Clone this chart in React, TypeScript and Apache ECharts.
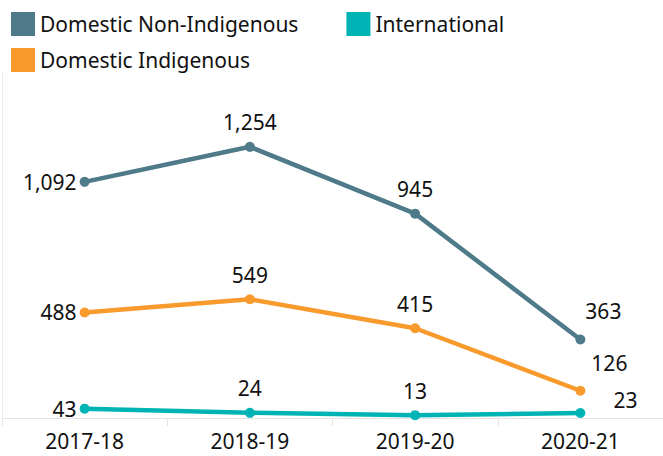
import React, { useEffect, useRef } from "react";
import * as echarts from "echarts";

const categories = ["2017-18", "2018-19", "2019-20", "2020-21"];
const nonIndigenous = [1092, 1254, 945, 363];
const indigenous = [488, 549, 415, 126];
const international = [43, 24, 13, 23];

const C_NON = "#4E7A89";
const C_IND = "#F89A2C";
const C_INT = "#00B3B5";
const FONT = "Noto Sans";
const FS = 21;

function labelsFor(values: number[], specs: any[]) {
  return values.map((v, i) => ({ value: v, label: specs[i] }));
}

export default function App() {
  const ref = useRef<HTMLDivElement>(null);
  useEffect(() => {
    if (!ref.current) return;
    const chart = echarts.init(ref.current, undefined, { renderer: "svg" });
    const baseLabel = {
      show: true,
      fontFamily: FONT,
      fontSize: FS,
      color: "#111",
      formatter: (p: any) => Number(p.value).toLocaleString("en-US"),
    };
    const top = { position: "top", distance: 9 };
    const left = { position: "left", distance: 3 };
    const lineSeries = (name: string, color: string, data: any[]) => ({
      name,
      type: "line",
      data,
      symbol: "circle",
      symbolSize: 10,
      lineStyle: { width: 4.5, color },
      itemStyle: { color },
      label: baseLabel,
      z: 3,
    });
    const legendText = { fontFamily: FONT, fontSize: FS, color: "#111", padding: [0, 0, 0, 0] };
    chart.setOption({
      animation: false,
      legend: [
        {
          data: ["Domestic Non-Indigenous", "International"],
          left: 6,
          top: 7,
          itemWidth: 24,
          itemHeight: 24,
          itemGap: 48,
          icon: "rect",
          textStyle: legendText,
        },
        {
          data: ["Domestic Indigenous"],
          left: 6,
          top: 43,
          itemWidth: 24,
          itemHeight: 24,
          icon: "rect",
          textStyle: legendText,
        },
      ],
      grid: { left: 2, right: -6, top: 72, bottom: 38, containLabel: false },
      xAxis: {
        type: "category",
        data: categories,
        boundaryGap: true,
        axisLine: { show: true, lineStyle: { color: "#e4e4e4", width: 1 } },
        axisTick: { show: true, length: 8, lineStyle: { color: "#e4e4e4" } },
        axisLabel: { fontFamily: FONT, fontSize: FS, color: "#111", margin: 12 },
      },
      yAxis: {
        type: "value",
        min: 0,
        max: 1600,
        axisLabel: { show: false },
        splitLine: { show: false },
        axisTick: { show: false },
        axisLine: { show: true, lineStyle: { color: "#eeeeee" } },
      },
      series: [
        lineSeries(
          "Domestic Non-Indigenous",
          C_NON,
          labelsFor(nonIndigenous, [left, top, top, { position: "top", distance: 8, offset: [23, -5] }])
        ),
        lineSeries(
          "Domestic Indigenous",
          C_IND,
          labelsFor(indigenous, [left, top, top, { position: "top", distance: 8, offset: [29, -4] }])
        ),
        lineSeries(
          "International",
          C_INT,
          labelsFor(international, [left, top, top, { position: "right", distance: 28, offset: [0, -13] }])
        ),
      ],
    });
    return () => chart.dispose();
  }, []);
  return <div ref={ref} style={{ width: 663, height: 456, position: "absolute", left: 0, top: 0 }} />;
}
